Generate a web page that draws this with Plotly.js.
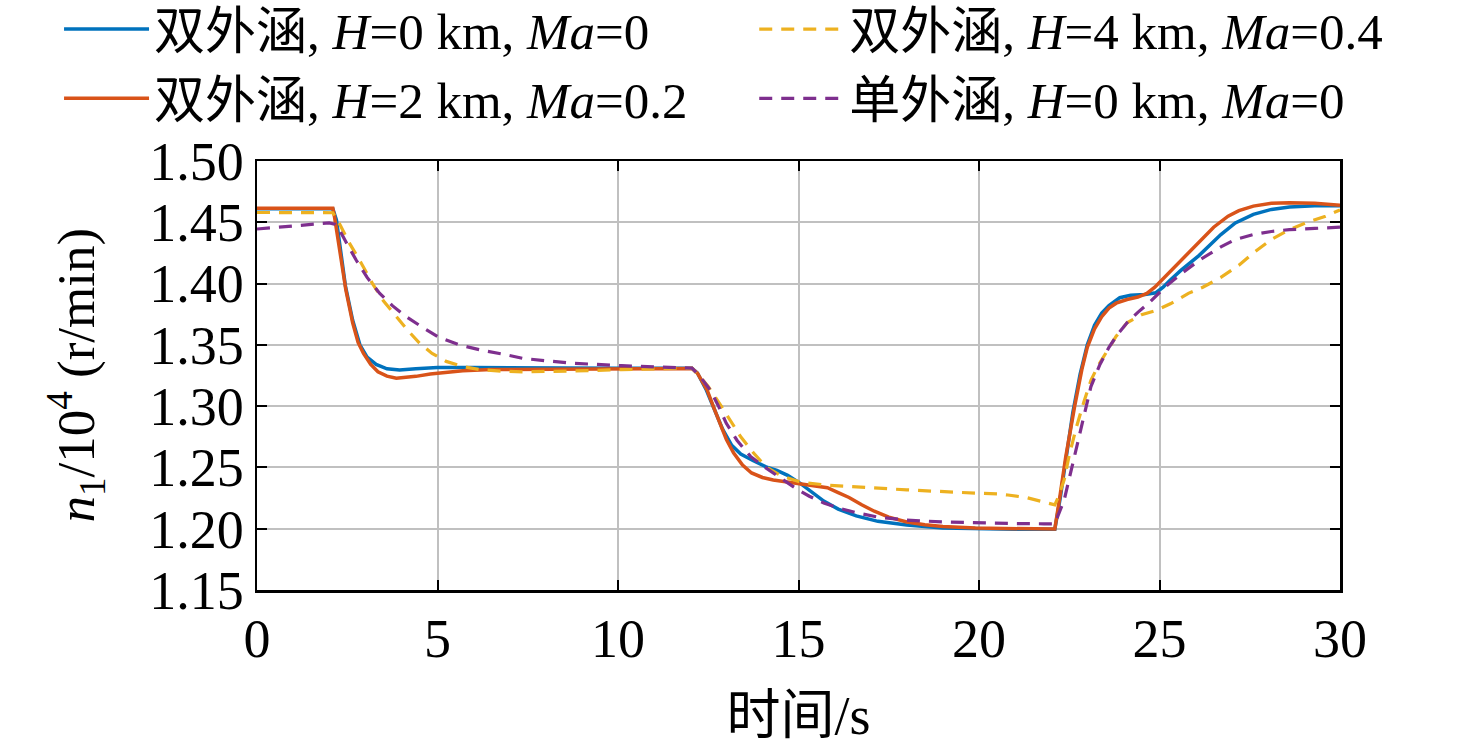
<!DOCTYPE html>
<html>
<head>
<meta charset="utf-8">
<script src="https://cdn.plot.ly/plotly-3.0.1.min.js"></script>
<style>html,body{margin:0;padding:0;background:#fff;}#chart{width:1476px;height:752px;}</style>
</head>
<body>
<div id="chart"></div>
<script>
// Series names
const names = [
  '双外涵, <i>H</i>=0 km, <i>Ma</i>=0',
  '双外涵, <i>H</i>=2 km, <i>Ma</i>=0.2',
  '双外涵, <i>H</i>=4 km, <i>Ma</i>=0.4',
  '单外涵, <i>H</i>=0 km, <i>Ma</i>=0'
];
const xTitle = '时间/s';
const yTitle = '<i>n</i><sub>1</sub>/10<sup>4</sup> (r/min)';

// Series 1: 双外涵 H=0 km Ma=0
const t1 = [0,2.1,2.2,2.3,2.45,2.65,2.85,3.05,3.3,3.6,3.95,4.4,5.0,6,8,10,12.05,12.2,12.45,12.65,12.9,13.15,13.4,13.75,14.1,14.4,14.7,15.05,15.4,15.7,16.1,16.6,17.2,18,19,20,21,22.1,22.25,22.4,22.6,22.8,23.0,23.2,23.4,23.6,23.9,24.2,24.6,24.9,25.1,25.3,25.6,26.1,26.7,27.1,27.6,28.1,28.6,29.3,30];
const v1 = [1.461,1.461,1.452,1.43,1.398,1.37,1.350,1.340,1.334,1.3305,1.3295,1.3305,1.3315,1.3315,1.331,1.331,1.331,1.327,1.313,1.298,1.281,1.268,1.261,1.2555,1.2505,1.2475,1.2435,1.237,1.229,1.2225,1.216,1.2105,1.206,1.203,1.2005,1.1998,1.1995,1.1995,1.225,1.255,1.295,1.326,1.350,1.366,1.376,1.382,1.3885,1.3905,1.391,1.3925,1.397,1.403,1.411,1.423,1.440,1.4495,1.4565,1.4605,1.4625,1.4635,1.4635];

// Series 2: 双外涵 H=2 km Ma=0.2
const t2 = [0,2.1,2.15,2.28,2.46,2.65,2.8,2.95,3.15,3.35,3.6,3.86,4.1,4.4,4.8,5.2,5.7,6.5,8,10,12.05,12.2,12.47,12.65,12.83,13.0,13.2,13.45,13.7,14.0,14.3,14.7,15.05,15.5,15.8,16.1,16.4,16.75,17.1,17.5,18.0,18.5,19.0,19.9,21,22.1,22.25,22.4,22.65,22.85,23.0,23.2,23.4,23.6,23.8,24.1,24.4,24.65,24.87,25.2,25.6,26.0,26.5,26.9,27.2,27.6,28.1,28.6,29.3,30];
const v2 = [1.4615,1.4615,1.454,1.428,1.395,1.368,1.352,1.343,1.334,1.328,1.3245,1.3228,1.3232,1.3243,1.3262,1.3275,1.3288,1.3298,1.3302,1.3305,1.3308,1.327,1.313,1.299,1.286,1.273,1.262,1.252,1.2455,1.2418,1.2398,1.2383,1.2368,1.2352,1.2335,1.2295,1.2255,1.2195,1.2143,1.2095,1.2055,1.2033,1.2018,1.2005,1.1999,1.1997,1.228,1.258,1.300,1.330,1.348,1.363,1.373,1.380,1.384,1.387,1.389,1.392,1.397,1.407,1.419,1.431,1.446,1.455,1.4595,1.4632,1.4655,1.466,1.4655,1.464];

// Series 3: 双外涵 H=4 km Ma=0.4
const t3 = [0,2.1,2.3,2.56,2.9,3.2,3.5,3.86,4.2,4.5,4.85,5.24,5.7,6.17,6.8,7.36,8,8.75,10.1,11,12.05,12.3,12.5,12.75,13.05,13.4,13.75,14.1,14.5,15.05,15.8,16.6,18,19.9,20.5,20.8,21.3,21.9,22.1,22.2,22.36,22.5,22.7,22.9,23.1,23.3,23.5,23.8,24.1,24.5,24.9,25.3,25.8,26.2,26.7,27.2,27.6,28.1,28.6,29.1,29.6,30];
const v3 = [1.458,1.4578,1.448,1.433,1.416,1.400,1.386,1.373,1.361,1.3515,1.343,1.3365,1.3323,1.3298,1.3285,1.328,1.3282,1.3287,1.3298,1.3304,1.331,1.323,1.316,1.305,1.291,1.275,1.262,1.2505,1.2435,1.238,1.2355,1.234,1.2317,1.229,1.2285,1.2275,1.2255,1.221,1.2195,1.226,1.240,1.26,1.283,1.303,1.321,1.333,1.343,1.357,1.368,1.3745,1.378,1.3835,1.392,1.397,1.405,1.415,1.425,1.436,1.444,1.450,1.455,1.46];

// Series 4: 单外涵 H=0 km Ma=0
const t4 = [0,1.0,2.0,2.15,2.28,2.5,2.75,3.05,3.4,3.75,4.13,4.6,5.05,5.6,6.17,6.8,7.36,8,8.75,10.1,11,12.05,12.25,12.56,12.8,13.0,13.3,13.67,14.0,14.3,14.65,14.97,15.3,15.7,16.1,16.6,17.2,18,19,19.9,21,21.8,22.1,22.36,22.55,22.7,22.9,23.1,23.35,23.6,23.85,24.1,24.4,24.7,25.15,25.6,26.1,26.7,27.1,27.6,28.1,28.6,29.3,30];
const v4 = [1.4445,1.447,1.4495,1.4485,1.444,1.432,1.419,1.405,1.392,1.382,1.373,1.364,1.356,1.350,1.346,1.3425,1.339,1.337,1.335,1.333,1.332,1.331,1.325,1.313,1.299,1.286,1.272,1.259,1.2515,1.2455,1.239,1.232,1.2265,1.221,1.217,1.213,1.2095,1.207,1.2055,1.2047,1.2042,1.204,1.204,1.2235,1.248,1.267,1.292,1.316,1.334,1.348,1.359,1.368,1.3765,1.384,1.397,1.408,1.419,1.430,1.436,1.440,1.4425,1.444,1.445,1.446];

// Axis ticks
const xTicks = [0,5,10,15,20,25,30];
const yTicks = [1.15,1.20,1.25,1.30,1.35,1.40,1.45,1.50];
const yTickText = ['1.15','1.20','1.25','1.30','1.35','1.40','1.45','1.50'];

const colors = ['#0072BD','#D95319','#EDB120','#7E2F8E'];
const FONT = '"Liberation Serif", "Times New Roman", "Noto Sans CJK SC", serif';

const traces = [
  {x:t1, y:v1, name:names[0], mode:'lines', line:{color:colors[0], width:3.5}, legend:'legend'},
  {x:t2, y:v2, name:names[1], mode:'lines', line:{color:colors[1], width:3.5}, legend:'legend'},
  {x:t3, y:v3, name:names[2], mode:'lines', line:{color:colors[2], width:3.2, dash:'13px,9px'}, legend:'legend2'},
  {x:t4, y:v4, name:names[3], mode:'lines', line:{color:colors[3], width:3.2, dash:'13px,9px'}, legend:'legend2'}
];

const legendCommon = {
  orientation:'v', xref:'container', yref:'paper',
  xanchor:'left', yanchor:'top',
  itemwidth:85, bgcolor:'rgba(0,0,0,0)', borderwidth:0,
  font:{family:FONT, size:51, color:'#000'},
  traceorder:'normal', tracegroupgap:0
};

const layout = {
  width:1476, height:752,
  paper_bgcolor:'#fff', plot_bgcolor:'#fff',
  font:{family:FONT, size:50, color:'#000'},
  margin:{l:257, r:136, t:161, b:162, autoexpand:false},
  showlegend:true,
  legend:Object.assign({}, legendCommon, {x:0.040, y:1.40}),
  legend2:Object.assign({}, legendCommon, {x:0.511, y:1.40}),
  xaxis:{
    range:[0,30], tickvals:xTicks, ticktext:xTicks.map(String),
    showgrid:true, gridcolor:'#c0c0c0', gridwidth:2,
    showline:true, linecolor:'#000', linewidth:2.5, mirror:'ticks',
    ticks:'inside', ticklen:10, tickwidth:2, tickcolor:'#000',
    zeroline:false, tickfont:{family:FONT, size:54}, automargin:false,
    title:{text:xTitle, font:{family:FONT, size:54}, standoff:28}
  },
  yaxis:{
    range:[1.15,1.50], tickvals:yTicks, ticktext:yTickText,
    showgrid:true, gridcolor:'#c0c0c0', gridwidth:2,
    showline:true, linecolor:'#000', linewidth:2.5, mirror:'ticks',
    ticks:'inside', ticklen:10, tickwidth:2, tickcolor:'#000',
    zeroline:false, tickfont:{family:FONT, size:54}, automargin:false
  },
  annotations:[{
    text:yTitle, xref:'paper', yref:'paper', x:-0.168, y:0.5,
    xanchor:'center', yanchor:'middle', textangle:-90, showarrow:false,
    font:{family:FONT, size:53, color:'#000'}
  }]
};

Plotly.newPlot('chart', traces, layout, {displayModeBar:false, staticPlot:true});
</script>
</body>
</html>
